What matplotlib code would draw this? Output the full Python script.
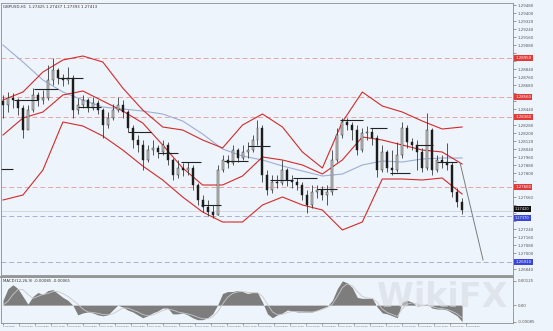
import numpy as np
import matplotlib
matplotlib.use("Agg")
import matplotlib.pyplot as plt
import matplotlib.transforms as mtransforms

# ---- data ----
symbol_text = "GBPUSD,H1  1.27425 1.27437 1.27393 1.27413"
osc_text = "MACD(12,26,9) -0.00085 -0.00065"

close = [1.2848, 1.2855, 1.2853, 1.2845, 1.2823, 1.2843, 1.2858, 1.2853, 1.2855, 1.2873,
         1.2883, 1.2875, 1.2873, 1.2875, 1.2843, 1.2848, 1.2853, 1.2845, 1.2850, 1.2843,
         1.2828, 1.2835, 1.2843, 1.2848, 1.2841, 1.2825, 1.2813, 1.2808, 1.2793, 1.2803,
         1.2805, 1.2801, 1.2808, 1.2793, 1.2778, 1.2785, 1.2783, 1.2785, 1.2768, 1.2753,
         1.2746, 1.2741, 1.2738, 1.2783, 1.2793, 1.2790, 1.2803, 1.2795, 1.2801, 1.2803,
         1.2813, 1.2825, 1.2778, 1.2763, 1.2771, 1.2770, 1.2783, 1.2773, 1.2771, 1.2768,
         1.2758, 1.2748, 1.2761, 1.2763, 1.2758, 1.2761, 1.2793, 1.2818, 1.2831, 1.2828,
         1.2823, 1.2803, 1.2820, 1.2821, 1.2815, 1.2783, 1.2801, 1.2785, 1.2783, 1.2798,
         1.2825, 1.2811, 1.2808, 1.2801, 1.2785, 1.2823, 1.2783, 1.2793, 1.2791, 1.2788,
         1.2761, 1.2751, 1.2743]
high = [1.2858, 1.2861, 1.2860, 1.2855, 1.2848, 1.2848, 1.2865, 1.2861, 1.2863, 1.2888,
        1.2895, 1.2885, 1.2879, 1.2886, 1.2878, 1.2855, 1.2858, 1.2855, 1.2856, 1.2853,
        1.2845, 1.2841, 1.2849, 1.2856, 1.2853, 1.2843, 1.2828, 1.2818, 1.2813, 1.2808,
        1.2813, 1.2808, 1.2813, 1.2811, 1.2795, 1.2793, 1.2790, 1.2791, 1.2788, 1.2770,
        1.2758, 1.2753, 1.2748, 1.2788, 1.2798, 1.2798, 1.2808, 1.2805, 1.2808, 1.2811,
        1.2818, 1.2833, 1.2828, 1.2783, 1.2778, 1.2778, 1.2793, 1.2785, 1.2778, 1.2775,
        1.2771, 1.2763, 1.2768, 1.2768, 1.2767, 1.2768, 1.2803, 1.2825, 1.2835, 1.2835,
        1.2831, 1.2828, 1.2825, 1.2827, 1.2825, 1.2818, 1.2808, 1.2803, 1.2803, 1.2811,
        1.2831, 1.2828, 1.2815, 1.2813, 1.2805, 1.2840, 1.2825, 1.2798, 1.2798, 1.2810,
        1.2791, 1.2765, 1.2755]
low = [1.2835, 1.2841, 1.2845, 1.2838, 1.2815, 1.2825, 1.2841, 1.2847, 1.2849, 1.2853,
       1.2868, 1.2869, 1.2867, 1.2869, 1.2835, 1.2839, 1.2845, 1.2841, 1.2843, 1.2839,
       1.2815, 1.2825, 1.2833, 1.2841, 1.2835, 1.2821, 1.2805, 1.2801, 1.2783, 1.2791,
       1.2798, 1.2795, 1.2798, 1.2788, 1.2773, 1.2775, 1.2777, 1.2778, 1.2763, 1.2748,
       1.2741, 1.2737, 1.2735, 1.2738, 1.2781, 1.2785, 1.2788, 1.2791, 1.2793, 1.2795,
       1.2801, 1.2808, 1.2771, 1.2758, 1.2760, 1.2765, 1.2768, 1.2767, 1.2765, 1.2763,
       1.2753, 1.2740, 1.2745, 1.2755, 1.2753, 1.2748, 1.2758, 1.2791, 1.2815, 1.2823,
       1.2813, 1.2798, 1.2801, 1.2813, 1.2808, 1.2776, 1.2781, 1.2781, 1.2778, 1.2781,
       1.2795, 1.2805, 1.2803, 1.2783, 1.2781, 1.2783, 1.2778, 1.2781, 1.2785, 1.2783,
       1.2756, 1.2746, 1.2739]
first_open = 1.2852

# Bollinger bands and slow MA, sampled every 4 bars
band_upper = [1.2853, 1.2861, 1.2881, 1.2893, 1.2897, 1.2891, 1.2865, 1.2843, 1.2826, 1.2823,
              1.2813, 1.2805, 1.2828, 1.2839, 1.2826, 1.2801, 1.2785, 1.2831, 1.2861, 1.2847,
              1.2841, 1.2832, 1.2824, 1.2826]
band_mid = [1.2818, 1.2835, 1.2841, 1.2858, 1.2862, 1.2852, 1.2842, 1.2830, 1.2808, 1.2785,
            1.2768, 1.2768, 1.2777, 1.2796, 1.2793, 1.2788, 1.2779, 1.2793, 1.2816, 1.2813,
            1.2808, 1.2803, 1.2801, 1.2789]
band_lower = [1.2753, 1.2758, 1.2783, 1.2831, 1.2827, 1.2817, 1.2803, 1.2787, 1.2773, 1.2756,
              1.2741, 1.2731, 1.2731, 1.2748, 1.2756, 1.2748, 1.2743, 1.2723, 1.2731, 1.2774,
              1.2774, 1.2773, 1.2775, 1.2759]
slow_ma = [1.2908, 1.2891, 1.2873, 1.2861, 1.2853, 1.2846, 1.2844, 1.2842, 1.2839, 1.2832,
           1.2819, 1.2804, 1.2797, 1.2793, 1.2787, 1.2782, 1.2777, 1.2779, 1.2788, 1.2792,
           1.2791, 1.2794, 1.2795, 1.2795]

# daily open segments: start bar, end bar, price
seg_start = [-0.4, 2.2, 6.2, 11.0, 15.0, 25.0, 31.0, 35.6, 39.6, 44.2, 49.0, 53.6, 58.2, 63.0, 67.6, 73.6, 77.6, 83.0, 87.0]
seg_end = [2.0, 7.0, 11.0, 16.0, 19.6, 29.6, 35.0, 39.6, 43.6, 49.0, 53.6, 58.2, 63.0, 67.0, 72.2, 77.0, 81.6, 86.2, 91.0]
seg_price = [1.2784, 1.2853, 1.2864, 1.2875, 1.2846, 1.2821, 1.2800, 1.2791, 1.2748, 1.2792,
             1.2807, 1.2773, 1.2775, 1.2764, 1.2833, 1.2825, 1.2780, 1.2808, 1.2791]

proj_bars = [91.6, 96.2]
proj_price = [1.2790, 1.2693]

red_levels = [1.2895, 1.2856, 1.2836, 1.2766]
blue_levels = [1.2737, 1.2691]
bid = 1.2742

osc_hist = [0.00025, 0.00085, 0.00105, 0.00085, 0.00045, 0.00005, 0.00045, 0.00065, 0.00055, 0.00075,
            0.00080, 0.00060, 0.00040, 0.00025, 0.0, -0.00050, -0.00040, -0.00035, -0.00040, -0.00050,
            -0.00055, -0.00050, -0.00025, 0.0, -0.00010, -0.00025, -0.00035, -0.00050, -0.00065, -0.00055,
            -0.00040, -0.00030, -0.00015, -0.00015, -0.00045, -0.00045, -0.00040, -0.00050, -0.00065, -0.00075,
            -0.00075, -0.00065, -0.00045, 0.0, 0.00060, 0.00070, 0.00070, 0.00075, 0.00070, 0.00060,
            0.00065, 0.00065, 0.00015, -0.00045, -0.00065, -0.00050, -0.00040, -0.00025, -0.00030, -0.00035,
            -0.00035, -0.00035, -0.00035, -0.00025, -0.00015, -0.00005, 0.00025, 0.00085, 0.00125, 0.00115,
            0.00090, 0.00040, 0.00035, 0.00035, 0.00035, -0.00010, -0.00040, -0.00045, -0.00055, -0.00065,
            0.00015, 0.00025, 0.00015, -0.00005, 0.0, 0.00005, -0.00015, -0.00020, -0.00020, -0.00025,
            -0.00040, -0.00055, -0.00085]
osc_signal = [0.0, 0.00020, 0.00055, 0.00080, 0.00080, 0.00055, 0.00035, 0.00045, 0.00055, 0.00060,
              0.00070, 0.00070, 0.00060, 0.00045, 0.00025, 0.00005, -0.00020, -0.00035, -0.00038, -0.00042,
              -0.00048, -0.00050, -0.00045, -0.00030, -0.00015, -0.00015, -0.00025, -0.00035, -0.00048, -0.00055,
              -0.00050, -0.00040, -0.00028, -0.00020, -0.00025, -0.00035, -0.00040, -0.00045, -0.00052, -0.00062,
              -0.00070, -0.00070, -0.00060, -0.00035, 0.00005, 0.00040, 0.00060, 0.00068, 0.00070, 0.00066,
              0.00064, 0.00064, 0.00045, 0.00005, -0.00035, -0.00050, -0.00048, -0.00038, -0.00032, -0.00033,
              -0.00034, -0.00035, -0.00035, -0.00030, -0.00022, -0.00012, 0.00005, 0.00045, 0.00090, 0.00110,
              0.00100, 0.00070, 0.00045, 0.00037, 0.00035, 0.00015, -0.00020, -0.00038, -0.00048, -0.00058,
              -0.00020, 0.00005, 0.00012, 0.00005, 0.0, 0.0, -0.00008, -0.00015, -0.00018, -0.00022,
              -0.00032, -0.00045, -0.00065]

date_labels = ["9 Jun 2023", "12 Jun 01:00", "12 Jun 09:00", "12 Jun 17:00", "13 Jun 01:00",
               "13 Jun 09:00", "13 Jun 17:00", "14 Jun 01:00", "14 Jun 09:00", "14 Jun 17:00",
               "15 Jun 01:00", "15 Jun 09:00", "15 Jun 17:00", "16 Jun 01:00", "16 Jun 09:00",
               "16 Jun 17:00", "19 Jun 01:00", "19 Jun 09:00", "19 Jun 17:00", "20 Jun 01:00",
               "20 Jun 09:00", "20 Jun 17:00", "21 Jun 01:00", "21 Jun 09:00", "21 Jun 17:00",
               "22 Jun 01:00", "22 Jun 09:00", "22 Jun 17:00", "23 Jun 01:00", "23 Jun 09:00"]

# ---- styling ----
bg = "#eef4fb"
frame = "#8c8c8c"
W, H = 553, 331

fig = plt.figure(figsize=(W / 100, H / 100), dpi=100, facecolor=bg)
ax = fig.add_axes([1 / W, 1 - 275 / H, 512 / W, 272 / H], facecolor=bg)
ax2 = fig.add_axes([1 / W, 1 - 323 / H, 512 / W, 46 / H], facecolor=bg)

idx = np.arange(len(close))
c = np.array(close)
o = np.array([first_open] + close[:-1])
band_x = np.arange(0, len(close), 4)

# levels
for lv in red_levels:
    ax.axhline(lv, color="#e9a4a4", lw=0.7, ls=(0, (5, 3)), zorder=1)
for lv in blue_levels:
    ax.axhline(lv, color="#a9aed8", lw=0.7, ls=(0, (5, 3)), zorder=1)
ax.axhline(bid, color="#c9cdd4", lw=0.5, zorder=1)

# indicators
ax.plot(band_x, slow_ma, color="#9daed6", lw=0.8, zorder=2)
ax.plot(band_x, band_upper, color="#d42a2a", lw=0.8, zorder=2)
ax.plot(band_x, band_mid, color="#d42a2a", lw=0.8, zorder=2)
ax.plot(band_x, band_lower, color="#d42a2a", lw=0.8, zorder=2)
ax.plot(proj_bars, proj_price, color="#7c7c7c", lw=0.7, zorder=2)
ax.hlines(seg_price, seg_start, seg_end, color="#222222", lw=0.8, zorder=4)

# candles
ax.vlines(idx, low, high, color="#3a3a3a", lw=0.6, zorder=3)
body = np.maximum(np.abs(c - o), 0.00003)
colors = np.where(c >= o, "#c4c4c4", "#1c1c1c")
ax.bar(idx, body, bottom=np.minimum(o, c), width=0.4, color=colors,
       edgecolor="#1c1c1c", linewidth=0.3, zorder=3)

ax.set_xlim(-0.4, 102.2)
ax.set_ylim(1.2678, 1.2950)
ax.set_xticks([])
ax.yaxis.tick_right()
tags = red_levels + blue_levels + [bid]
ticks = np.arange(1.2684, 1.2950, 0.0008)
ax.set_yticks(ticks)
# MT4 hides the scale numbers that sit under a price tag
ax.set_yticklabels([f"{t:.5f}" if min(abs(t - g) for g in tags) > 0.0006 else "" for t in ticks])
ax.tick_params(axis="y", length=2, width=0.4, colors="#555555", labelsize=2.8, pad=1.5)
for s in ax.spines.values():
    s.set_color(frame)
    s.set_linewidth(0.6)

ax.text(0.004, 0.992, symbol_text, transform=ax.transAxes, fontsize=2.8,
        color="#333333", va="top", ha="left")

# price tags on the right scale
trans = mtransforms.blended_transform_factory(ax.transAxes, ax.transData)
for lv in red_levels:
    ax.text(1.004, lv, f"{lv:.5f}", transform=trans, fontsize=2.8, color="white",
            va="center", ha="left", zorder=6, clip_on=False,
            bbox=dict(boxstyle="square,pad=0.35", fc="#e03a3a", ec="none"))
ax.text(1.004, blue_levels[1], f"{blue_levels[1]:.5f}", transform=trans, fontsize=2.8,
        color="white", va="center", ha="left", zorder=6, clip_on=False,
        bbox=dict(boxstyle="square,pad=0.35", fc="#3a46d8", ec="none"))
# bid tag and the blue level just under it, stacked like the terminal does
ax.text(1.004, bid, f"{bid:.5f}", transform=trans, fontsize=2.5, color="white",
        va="bottom", ha="left", zorder=7, clip_on=False,
        bbox=dict(boxstyle="square,pad=0.25", fc="#111111", ec="none"))
ax.text(1.004, blue_levels[0], f"{blue_levels[0]:.5f}", transform=trans, fontsize=2.5,
        color="white", va="top", ha="left", zorder=6, clip_on=False,
        bbox=dict(boxstyle="square,pad=0.25", fc="#3a46d8", ec="none"))

# oscillator panel
ax2.fill_between(idx, 0, osc_hist, color="#7d7d7d", lw=0, zorder=2)
ax2.plot(idx, osc_signal, color="#c8c8c8", lw=0.6, zorder=3)
ax2.set_xlim(-0.4, 102.2)
ax2.set_ylim(-0.00092, 0.00145)
ax2.yaxis.tick_right()
ax2.set_yticks([0.00125, 0.0, -0.00085])
ax2.set_yticklabels(["0.00125", "0.00", "-0.00085"])
ax2.tick_params(axis="y", length=2, width=0.4, colors="#555555", labelsize=2.8, pad=1.5)
date_pos = np.arange(len(date_labels)) * 3.2
ax2.set_xticks(date_pos)
ax2.set_xticklabels(date_labels, ha="left")
ax2.tick_params(axis="x", length=1.5, width=0.4, colors="#555555", labelsize=1.5, pad=1)
for s in ax2.spines.values():
    s.set_color(frame)
    s.set_linewidth(0.6)
ax2.spines["top"].set_linewidth(1.3)
ax2.text(0.004, 0.96, osc_text, transform=ax2.transAxes, fontsize=2.8,
         color="#333333", va="top", ha="left")

# watermark
fig.text(0.80, 0.10, "WikiFX", fontsize=24, fontweight="bold", color="#d6d9de",
         alpha=0.55, ha="center", va="center", zorder=10)

fig.savefig("out.png", dpi=100, facecolor=bg)
